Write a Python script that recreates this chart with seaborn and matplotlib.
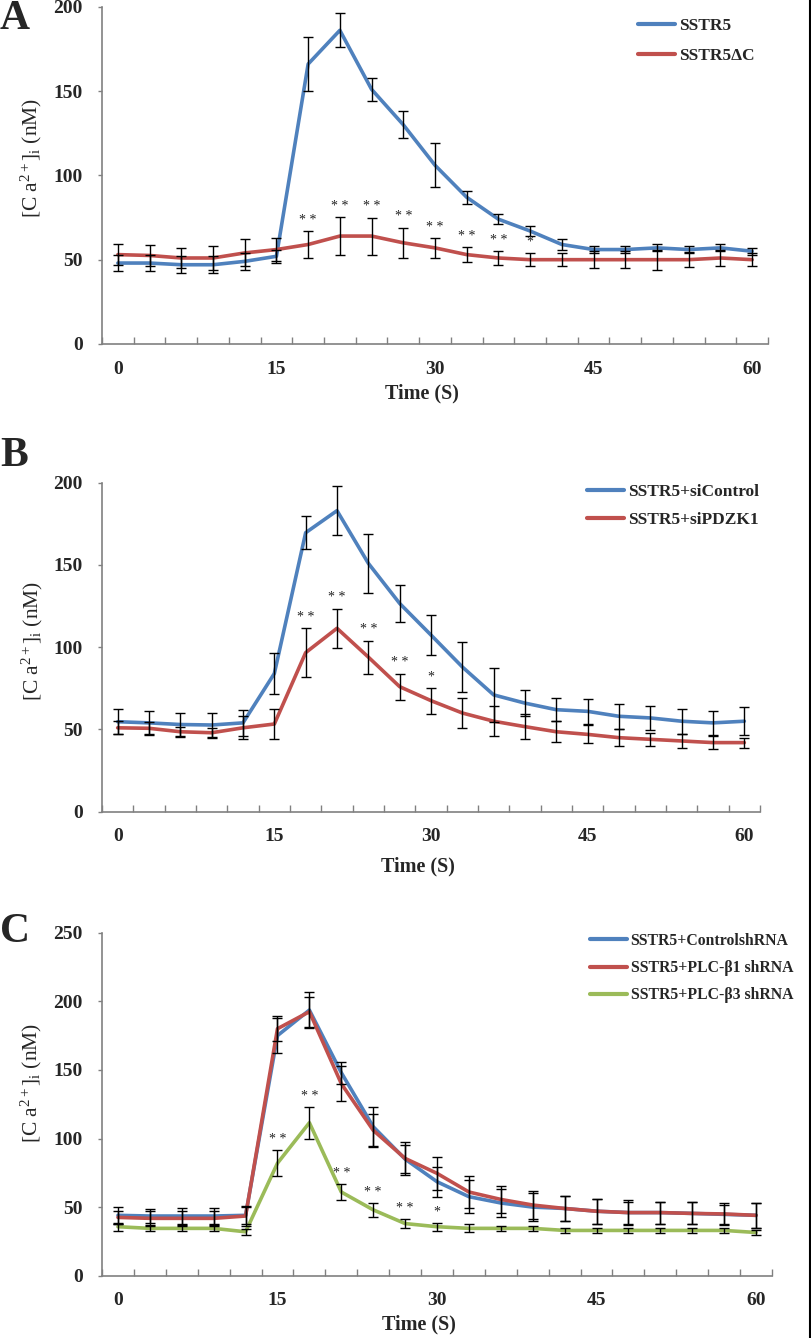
import numpy as np
import pandas as pd
import matplotlib
matplotlib.use("Agg")
import matplotlib.pyplot as plt
import seaborn as sns
from matplotlib.lines import Line2D
from matplotlib.ticker import FixedLocator

# ---------------- data ----------------
time_s = list(range(0, 61, 3))
x_tick_values = [0, 15, 30, 45, 60]
x_tick_labels = ["0", "15", "30", "45", "60"]

# Panel A
a_labels = ["SSTR5", "SSTR5\u0394C"]
a_sstr5 = [48, 48, 47, 47, 49, 52, 166, 186, 151, 130, 106, 87, 74, 67, 59, 56, 56, 57, 56, 57, 55]
a_sstr5_err = [5, 5, 5, 5, 5, 4, 16, 10, 7, 8, 13, 4, 3, 3, 3, 2, 2, 2, 2, 2, 2]
a_dc = [53, 52.5, 51, 51, 54, 56, 59, 64, 64, 60, 57, 53, 51, 50, 50, 50, 50, 50, 50, 51, 50]
a_dc_err = [6, 6, 6, 7, 8, 7, 8, 11.5, 11, 9, 6, 4.5, 4, 4, 4, 5, 5, 6, 4.5, 5, 4]
a_stars = ["", "", "", "", "", "", "**", "**", "**", "**", "**", "**", "**", "*",
           "", "", "", "", "", "", ""]
a_yticks = [0, 50, 100, 150, 200]

# Panel B
b_labels = ["SSTR5+siControl", "SSTR5+siPDZK1"]
b_ctrl = [54.7, 54, 53, 52.7, 54, 84, 169.6, 183, 151, 126.6, 107.4, 88, 71, 66, 62, 61, 58, 57, 55, 54, 55]
b_ctrl_err = [7.5, 7, 7, 7, 8, 12.5, 10, 15, 18, 11, 12, 15, 16.5, 8, 7, 7.5, 7.5, 7.5, 7.5, 7.5, 8.5]
b_pdzk = [51, 50.7, 48.6, 48, 51, 53.3, 96.7, 111.5, 94, 76, 67.5, 60, 55, 51.7, 48.6, 47, 45, 44, 43, 42, 42]
b_pdzk_err = [4, 4, 3, 3, 7, 9, 15, 12, 10, 8, 8, 9, 9, 7.5, 6.5, 5.5, 5, 4, 4, 4, 3]
b_stars = ["", "", "", "", "", "", "**", "**", "**", "**", "*", "", "", "", "",
           "", "", "", "", "", ""]
b_yticks = [0, 50, 100, 150, 200]

# Panel C
c_labels = ["SSTR5+ControlshRNA", "SSTR5+PLC-\u03b21 shRNA", "SSTR5+PLC-\u03b23 shRNA"]
c_ctrl = [44, 43.5, 43.5, 43.5, 44, 175, 193.6, 148, 108.6, 85, 68.5, 57.6, 53, 50, 49, 47, 46, 46, 45.4, 44.7, 44]
c_ctrl_err = [6, 5, 6, 6, 6, 13, 13, 8, 14, 10, 11, 12, 10, 10, 9, 9, 8, 8, 8, 7, 9]
c_b1 = [42.5, 41.8, 41.8, 41.8, 43.5, 180, 192.4, 140, 106, 85.5, 74.6, 61, 55.6, 51.5, 49, 47, 46, 46, 45.4, 45, 44]
c_b1_err = [5, 5, 5, 5, 7, 9, 11, 13, 12, 12, 12, 12, 10, 10, 9, 9, 9, 8, 8, 8, 9]
c_b3 = [35.7, 34.5, 34.5, 34.5, 32, 82, 111.5, 61, 48, 38, 35.7, 34.5, 34.5, 34.5, 33, 33, 33, 33, 33, 33, 31.5]
c_b3_err = [3, 2, 2, 2, 2, 9.5, 11.5, 6, 5, 3, 3, 3, 2, 2, 2, 2, 2, 2, 2, 2, 2]
c_stars = ["", "", "", "", "", "**", "**", "**", "**", "**", "*", "", "", "", "",
           "", "", "", "", "", ""]
c_yticks = [0, 50, 100, 150, 200, 250]

BLUE = "#4F81BD"
RED = "#C0504D"
GREEN = "#9BBB59"

# ---------------- style ----------------
sns.set_theme(style="ticks")
plt.rcParams["font.family"] = ["Liberation Serif", "DejaVu Serif"]
plt.rcParams["mathtext.fontset"] = "custom"
plt.rcParams["mathtext.rm"] = "Liberation Serif"
plt.rcParams["mathtext.it"] = "Liberation Serif:italic"
plt.rcParams["mathtext.bf"] = "Liberation Serif:bold"

W, H = 812, 1338
fig = plt.figure(figsize=(W / 100, H / 100), dpi=100)
fig.patch.set_facecolor("white")


def px_axes(left, right, top, bottom):
    return fig.add_axes([left / W, 1 - bottom / H, (right - left) / W, (bottom - top) / H])


def draw_panel(ax, series, ymax, yticks, stars, star_series_idx, legend_cfg, letter,
               xlab_pos, ylab_pos):
    rows = []
    for name, vals, errs, col in series:
        for t, v in zip(time_s, vals):
            rows.append({"time": t, "value": v, "series": name})
    df = pd.DataFrame(rows)
    palette = {name: col for name, vals, errs, col in series}
    sns.lineplot(data=df, x="time", y="value", hue="series", palette=palette,
                 hue_order=[s[0] for s in series], linewidth=2.6, ax=ax,
                 legend=False, zorder=2)
    for name, vals, errs, col in series:
        ax.errorbar(time_s, vals, yerr=errs, fmt="none", ecolor="black",
                    elinewidth=1.0, capsize=3.5, capthick=1.0, zorder=3)
    # significance stars
    _, s_vals, s_errs, _ = series[star_series_idx]
    for t, v, e, s in zip(time_s, s_vals, s_errs, stars):
        if s:
            ax.annotate(" ".join(s), (t, v + e), xytext=(0, 3), textcoords="offset points",
                        ha="center", va="bottom", fontsize=10, color="#222222")

    ax.set_xlim(-1.5, 61.5)
    ax.set_ylim(0, ymax)
    ax.set_yticks(yticks)
    ax.set_yticklabels([str(v) for v in yticks])
    ax.set_xticks(x_tick_values)
    ax.set_xticklabels(x_tick_labels)
    ax.xaxis.set_minor_locator(FixedLocator(np.arange(-1.5, 61.6, 3)))
    ax.tick_params(axis="x", which="major", length=0, pad=12, labelsize=14)
    ax.tick_params(axis="x", which="minor", direction="in", length=5, width=1, color="#808080")
    ax.tick_params(axis="y", which="major", direction="out", length=3, width=1,
                   color="#808080", pad=11, labelsize=14)
    for lab in ax.get_xticklabels() + ax.get_yticklabels():
        lab.set_fontweight("bold")
    for sp in ["top", "right"]:
        ax.spines[sp].set_visible(False)
    for sp in ["left", "bottom"]:
        ax.spines[sp].set_color("#808080")
        ax.spines[sp].set_linewidth(1.2)
    ax.set_xlabel("Time (S)", fontsize=14.5, fontweight="bold")
    ax.xaxis.set_label_coords(*xlab_pos)
    ax.set_ylabel(r"[C a$^{2+}$]$_{\rm i}$ (nM)", fontsize=15.5)
    ax.yaxis.set_label_coords(*ylab_pos)
    ax.grid(False)
    ax.set_facecolor("white")

    handles = [Line2D([0], [0], color=col, lw=3) for _, _, _, col in series]
    lx, ly, spacing, lsize = legend_cfg
    ax.legend(handles, [s[0] for s in series], loc="upper left",
              bbox_to_anchor=(lx, ly), frameon=False, borderpad=0, borderaxespad=0,
              handlelength=2.15 * 12.5 / lsize, handletextpad=0.22, labelspacing=spacing,
              prop={"weight": "bold", "size": lsize})
    # panel letter
    fig.text(letter[1] / W, 1 - letter[2] / H, letter[0], fontsize=30, fontweight="bold",
             ha="left", va="top", family="Liberation Serif")


axA = px_axes(102, 768, 6.7, 344)
draw_panel(axA,
           [(a_labels[0], a_sstr5, a_sstr5_err, BLUE), (a_labels[1], a_dc, a_dc_err, RED)],
           200, a_yticks, a_stars, 1, (0.805, 0.966, 0.78, 12.5), ("A", 0, 0),
           (0.48, -0.118), (-0.087, 0.551))

axB = px_axes(102, 760, 482.7, 811.7)
draw_panel(axB,
           [(b_labels[0], b_ctrl, b_ctrl_err, BLUE), (b_labels[1], b_pdzk, b_pdzk_err, RED)],
           200, b_yticks, b_stars, 1, (0.737, 0.996, 0.67, 12.5), ("B", 0, 437),
           (0.48, -0.137), (-0.087, 0.519))

axC = px_axes(102, 772, 932.7, 1275.7)
draw_panel(axC,
           [(c_labels[0], c_ctrl, c_ctrl_err, BLUE), (c_labels[1], c_b1, c_b1_err, RED),
            (c_labels[2], c_b3, c_b3_err, GREEN)],
           250, c_yticks, c_stars, 2, (0.728, 1.0, 0.72, 11.3), ("C", 0, 913),
           (0.473, -0.112), (-0.087, 0.562))

# right border line present in the reference image
fig.add_artist(Line2D([810.5 / W, 810.5 / W], [0, 1], color="black", lw=1.5,
                      transform=fig.transFigure))

fig.savefig("out.png", dpi=100, facecolor="white")
